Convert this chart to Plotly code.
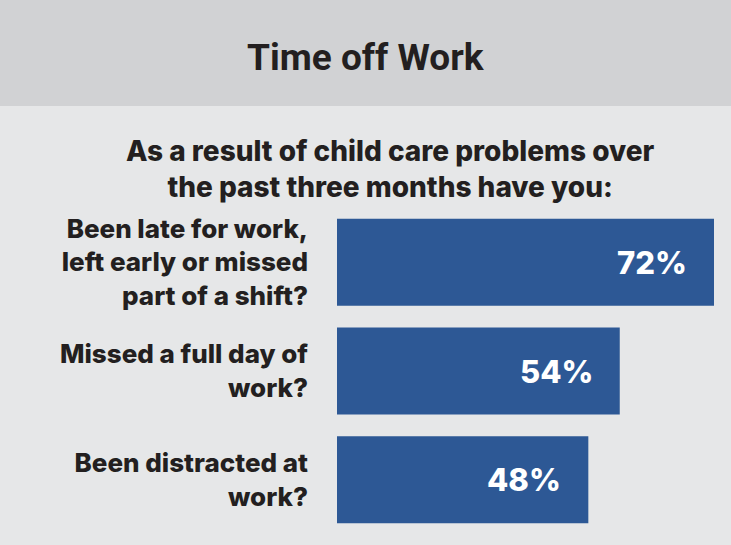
import plotly.graph_objects as go

# ---- data ----
categories = [
    "Been late for work,<br>left early or missed<br>part of a shift?",
    "Missed a full day of<br>work?",
    "Been distracted at<br>work?",
]
values = [72, 54, 48]
value_labels = ["72%", "54%", "48%"]
title_text = "Time off Work"
subtitle_text = "As a result of child care problems over<br>the past three months have you:"

# ---- styling ----
W, Hfig = 731, 545
M_T, M_B, M_L, M_R = 208, 11, 337, 17
PLOT_H = Hfig - M_T - M_B
PLOT_W = W - M_L - M_R
HEADER_BOTTOM_PX = 106
BAR_COLOR = "#2d5895"
TEXT_COLOR = "#231f20"
HEADER_BG = "#d1d2d4"
BODY_BG = "#e6e7e8"
FONT = "Inter"
TITLE_FONT = "Roboto"


def py(pixel_y):
    """Convert a pixel row (from top of figure) to paper y coordinate."""
    return 1 + (M_T - pixel_y) / PLOT_H


def px(pixel_x):
    return (pixel_x - M_L) / PLOT_W


fig = go.Figure(
    go.Bar(
        x=values,
        y=categories,
        orientation="h",
        marker=dict(color=BAR_COLOR, line=dict(width=0)),
        hoverinfo="skip",
    )
)

for v, lab, cat in zip(values, value_labels, categories):
    fig.add_annotation(
        x=v, y=cat, xref="x", yref="y",
        text=lab, showarrow=False,
        xanchor="right", xshift=-25, yshift=0,
        font=dict(family=FONT, size=31, color="white", weight=800),
    )

# header band
fig.add_shape(
    type="rect", xref="paper", yref="paper",
    x0=px(0), x1=px(W),
    y0=py(HEADER_BOTTOM_PX), y1=py(0),
    fillcolor=HEADER_BG, line=dict(width=0), layer="below",
)

fig.add_annotation(
    xref="paper", yref="paper",
    x=px(366), y=py(57),
    text=title_text, showarrow=False,
    xanchor="center", yanchor="middle",
    font=dict(family=TITLE_FONT, size=37, color=TEXT_COLOR, weight="bold"),
)
fig.add_annotation(
    xref="paper", yref="paper",
    x=px(390), y=py(169),
    text=subtitle_text, showarrow=False,
    xanchor="center", yanchor="middle",
    font=dict(family=FONT, size=28, color=TEXT_COLOR, weight=800),
)

fig.update_layout(
    width=W, height=Hfig,
    margin=dict(t=M_T, b=M_B, l=M_L, r=M_R, pad=0),
    paper_bgcolor=BODY_BG, plot_bgcolor=BODY_BG,
    bargap=0.2, showlegend=False,
    font=dict(family=FONT, color=TEXT_COLOR),
    xaxis=dict(range=[0, max(values)], visible=False, fixedrange=True),
    yaxis=dict(
        autorange="reversed", showgrid=False, zeroline=False, showline=False,
        ticks="", ticklabelstandoff=28,
        tickfont=dict(family=FONT, size=26, color=TEXT_COLOR, weight=800),
        fixedrange=True,
    ),
)

fig.write_html(
    "out.html",
    config={"displayModeBar": False},
    post_script="document.body.style.margin='0';",
)
